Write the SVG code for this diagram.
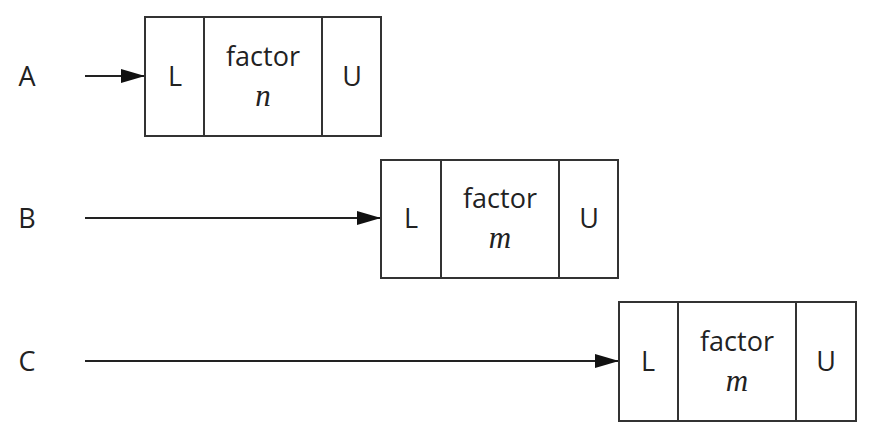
<svg xmlns="http://www.w3.org/2000/svg" width="870" height="438" viewBox="0 0 870 438">
<style>
.box{fill:#fff;stroke:#333;stroke-width:2}
.div{stroke:#333;stroke-width:2}
.t{font-family:"Open Sans","Liberation Sans",sans-serif;font-size:27px;fill:#222;text-anchor:middle}
.v{font-family:"Liberation Serif",serif;font-style:italic;font-size:31px;fill:#222;text-anchor:middle}
.conn{stroke:#222;stroke-width:2;fill:none}
</style>
<defs>
<marker id="ah" markerWidth="24" markerHeight="14" refX="24" refY="7" orient="auto" markerUnits="userSpaceOnUse">
<path d="M0,0 L24,7 L0,14 Z" fill="#111"/>
</marker>
</defs>
<rect width="870" height="438" fill="#fff"/>
<g id="labels">
<text class="t" x="27" y="86">A</text>
<text class="t" x="27" y="228">B</text>
<text class="t" x="27" y="371">C</text>
</g>
<g id="connectors">
<line class="conn" x1="85" y1="76" x2="145" y2="76" marker-end="url(#ah)"/>
<line class="conn" x1="85" y1="218" x2="381" y2="218" marker-end="url(#ah)"/>
<line class="conn" x1="85" y1="361" x2="619" y2="361" marker-end="url(#ah)"/>
</g>
<g id="nodeA">
<rect class="box" x="145" y="17" width="236" height="119"/>
<line class="div" x1="204" y1="17" x2="204" y2="136"/>
<line class="div" x1="322" y1="17" x2="322" y2="136"/>
<text class="t" x="175" y="86">L</text>
<text class="t" x="263" y="66">factor</text>
<text class="v" x="263" y="106">n</text>
<text class="t" x="352" y="86">U</text>
</g>
<g id="nodeB">
<rect class="box" x="381" y="160" width="237" height="118"/>
<line class="div" x1="441" y1="160" x2="441" y2="278"/>
<line class="div" x1="559" y1="160" x2="559" y2="278"/>
<text class="t" x="411" y="228">L</text>
<text class="t" x="500" y="208">factor</text>
<text class="v" x="500" y="248">m</text>
<text class="t" x="589" y="228">U</text>
</g>
<g id="nodeC">
<rect class="box" x="619" y="302" width="237" height="119"/>
<line class="div" x1="678" y1="302" x2="678" y2="421"/>
<line class="div" x1="796" y1="302" x2="796" y2="421"/>
<text class="t" x="648" y="371">L</text>
<text class="t" x="737" y="351">factor</text>
<text class="v" x="737" y="391">m</text>
<text class="t" x="826" y="371">U</text>
</g>
</svg>
